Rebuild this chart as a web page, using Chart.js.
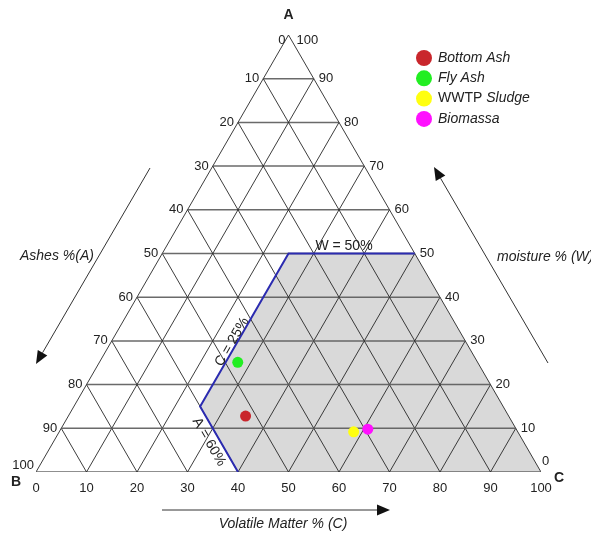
<!DOCTYPE html>
<html>
<head>
<meta charset="utf-8">
<script src="https://cdn.jsdelivr.net/npm/chart.js@4.4.1/dist/chart.umd.min.js"></script>
<style>
  body { margin: 0; background: #fff; }
  canvas { display: block; }
</style>
</head>
<body>
<canvas id="ternary" width="591" height="534"></canvas>
<script>
// Échantillons : humidité (W), matières volatiles (C), cendres (A) en %
const samples = ['Bottom Ash', 'Fly Ash', 'WWTP Sludge', 'Biomassa'];
const moisture = [12.8, 25.1, 9.2, 9.8];
const volatileMatter = [35.1, 27.4, 58.3, 60.8];
const ashes = [52.1, 47.5, 32.5, 29.4];
const sampleColors = ['#c9262c', '#22ee22', '#ffff10', '#ff10ff'];

// Zone grisée : W <= 50 %, C >= 25 %, A <= 60 %
const zoneMoisture = [50, 50, 0, 0, 15, 50];
const zoneVolatile = [25, 50, 100, 40, 25, 25];

// Limites tracées en bleu
const limitMoisture = [50, 50, 15, 0];
const limitVolatile = [50, 25, 25, 40];

// Graduations
const gridTicks = [10, 20, 30, 40, 50, 60, 70, 80, 90];
const sideTicks = [0, 10, 20, 30, 40, 50, 60, 70, 80, 90, 100];

const H = Math.sqrt(3) / 2;

// Conversion ternaire (W, C) -> coordonnées cartésiennes
function toXY(w, c) {
  return { x: c + w / 2, y: w * H };
}

const datasets = [];

// Points des échantillons
samples.forEach((name, i) => {
  datasets.push({
    label: name,
    data: [toXY(moisture[i], volatileMatter[i])],
    backgroundColor: sampleColors[i],
    borderColor: sampleColors[i],
    pointRadius: 5.5,
    borderWidth: 0,
    order: 0
  });
});

// Limites bleues
datasets.push({
  label: 'limites',
  data: limitMoisture.map((w, i) => toXY(w, limitVolatile[i])),
  showLine: true,
  borderColor: '#2b2bb0',
  borderWidth: 2,
  pointRadius: 0,
  fill: false,
  order: 1
});

// Grille : segments parallèles aux trois côtés
function segment(p1, p2, color, width) {
  datasets.push({
    label: 'grille',
    data: [p1, p2],
    showLine: true,
    borderColor: color,
    borderWidth: width,
    pointRadius: 0,
    fill: false,
    order: 2
  });
}
const diag = 'rgba(40, 40, 40, 0.9)';
const horiz = 'rgba(90, 90, 90, 0.9)';
gridTicks.forEach(t => {
  segment(toXY(t, 0), toXY(t, 100 - t), horiz, 1.5);           // W constant
  segment(toXY(0, t), toXY(100 - t, t), diag, 1);              // C constant
  segment(toXY(0, 100 - t), toXY(100 - t, 0), diag, 1);        // A constant
});
// Contour du triangle
segment(toXY(0, 0), toXY(0, 100), horiz, 1.5);
segment(toXY(0, 100), toXY(100, 0), diag, 1);
segment(toXY(100, 0), toXY(0, 0), diag, 1);

// Zone grisée
datasets.push({
  label: 'zone',
  data: zoneMoisture.map((w, i) => toXY(w, zoneVolatile[i])),
  showLine: true,
  borderWidth: 0,
  borderColor: 'rgba(0,0,0,0)',
  backgroundColor: '#d9d9d9',
  pointRadius: 0,
  fill: 'shape',
  order: 3
});

// Textes, flèches et légende
const labelsPlugin = {
  id: 'ternaryLabels',
  afterDraw(chart) {
    const ctx = chart.ctx;
    const xs = chart.scales.x, ys = chart.scales.y;
    const px = p => xs.getPixelForValue(p.x);
    const py = p => ys.getPixelForValue(p.y);
    const font = '13px "Liberation Sans", Arial, sans-serif';
    const font14 = '14px "Liberation Sans", Arial, sans-serif';
    const italic = 'italic 14px "Liberation Sans", Arial, sans-serif';
    ctx.save();
    ctx.fillStyle = '#222';
    ctx.font = font;
    ctx.textBaseline = 'middle';

    // Axe du bas (C)
    ctx.textAlign = 'center';
    sideTicks.forEach(t => {
      const p = toXY(0, t);
      ctx.fillText(String(t), px(p), py(p) + 16);
    });

    // Côté gauche (A) et côté droit (W)
    gridTicks.forEach(w => {
      const l = toXY(w, 0);
      ctx.textAlign = 'right';
      ctx.fillText(String(100 - w), px(l) - 4, py(l));
      const r = toXY(w, 100 - w);
      ctx.textAlign = 'left';
      ctx.fillText(String(w), px(r) + 5, py(r));
    });
    const top = toXY(100, 0), b = toXY(0, 0), c = toXY(0, 100);
    ctx.textAlign = 'right';
    ctx.fillText('0', px(top) - 3, py(top) + 5);
    ctx.fillText('100', px(b) - 2, py(b) - 7);
    ctx.textAlign = 'left';
    ctx.fillText('100', px(top) + 8, py(top) + 5);
    ctx.fillText('0', px(c) + 1, py(c) - 11);

    // Sommets
    ctx.font = 'bold 14px "Liberation Sans", Arial, sans-serif';
    ctx.textAlign = 'center';
    ctx.fillText('A', px(top), py(top) - 20);
    ctx.fillText('B', px(b) - 20, py(b) + 10);
    ctx.fillText('C', px(c) + 18, py(c) + 6);

    // Libellés des limites
    ctx.font = font14;
    ctx.fillText('W = 50%', 344, 246);
    ctx.save();
    ctx.translate(232, 342);
    ctx.rotate(-Math.PI / 3);
    ctx.fillText('C = 25%', 0, 0);
    ctx.restore();
    ctx.save();
    ctx.translate(209, 442);
    ctx.rotate(Math.PI / 3);
    ctx.fillText('A = 60%', 0, 0);
    ctx.restore();

    // Titres des axes
    ctx.font = italic;
    ctx.textAlign = 'left';
    ctx.fillText('Ashes %(A)', 20, 256);
    ctx.fillText('moisture % (W)', 497, 257);
    ctx.textAlign = 'center';
    ctx.fillText('Volatile Matter % (C)', 283, 524);

    // Flèches
    function arrow(x1, y1, x2, y2) {
      ctx.strokeStyle = '#333';
      ctx.fillStyle = '#111';
      ctx.lineWidth = 1;
      const a = Math.atan2(y2 - y1, x2 - x1);
      const len = 13, wd = 5.5;
      ctx.beginPath();
      ctx.moveTo(x1, y1);
      ctx.lineTo(x2 - Math.cos(a) * len, y2 - Math.sin(a) * len);
      ctx.stroke();
      ctx.beginPath();
      ctx.moveTo(x2, y2);
      ctx.lineTo(x2 - Math.cos(a) * len - Math.sin(a) * wd, y2 - Math.sin(a) * len + Math.cos(a) * wd);
      ctx.lineTo(x2 - Math.cos(a) * len + Math.sin(a) * wd, y2 - Math.sin(a) * len - Math.cos(a) * wd);
      ctx.closePath();
      ctx.fill();
    }
    arrow(150, 168, 36, 364);
    arrow(548, 363, 434, 167);
    arrow(162, 510, 390, 510);

    // Légende
    samples.forEach((name, i) => {
      const y = 58 + i * 20.3;
      ctx.fillStyle = sampleColors[i];
      ctx.beginPath();
      ctx.arc(424, y, 8, 0, Math.PI * 2);
      ctx.fill();
      ctx.fillStyle = '#222';
      ctx.textAlign = 'left';
      if (name === 'WWTP Sludge') {
        ctx.font = font14;
        ctx.fillText('WWTP ', 438, y);
        const w = ctx.measureText('WWTP ').width;
        ctx.font = italic;
        ctx.fillText('Sludge', 438 + w, y);
      } else {
        ctx.font = italic;
        ctx.fillText(name, 438, y);
      }
    });
    ctx.restore();
  }
};

new Chart(document.getElementById('ternary').getContext('2d'), {
  type: 'scatter',
  data: { datasets: datasets },
  options: {
    responsive: false,
    animation: false,
    layout: { padding: { left: 36, right: 50, top: 35, bottom: 62 } },
    scales: {
      x: { type: 'linear', min: 0, max: 100, display: false },
      y: { type: 'linear', min: 0, max: 100 * H, display: false }
    },
    plugins: {
      legend: { display: false },
      tooltip: { enabled: false }
    }
  },
  plugins: [labelsPlugin]
});
</script>
</body>
</html>
